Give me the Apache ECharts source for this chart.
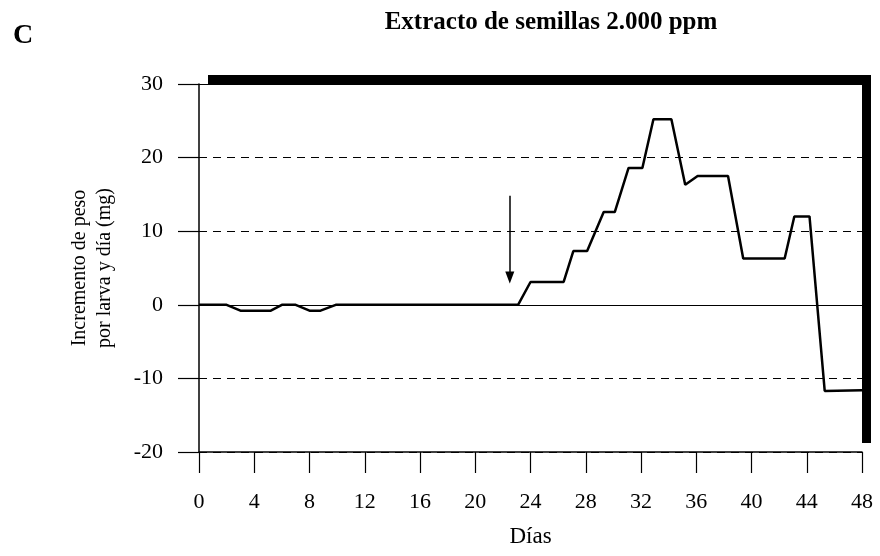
<!DOCTYPE html>
<html>
<head>
<meta charset="utf-8">
<script src="https://cdn.jsdelivr.net/npm/echarts@6/dist/echarts.min.js"></script>
<style>
  html, body { margin: 0; padding: 0; background: #fff; }
  #main { width: 880px; height: 556px; }
</style>
</head>
<body>
<div id="main"></div>
<script>
// Días y incremento de peso (mg)
const days = [0, 2, 3, 5.2, 6, 7, 8, 8.8, 9.9, 23.1, 24, 26.4, 27.1, 28.1, 29.3, 30.1, 31.1, 32.1,
  32.9, 34.2, 35.2, 36.1, 38.3, 39.4, 42.4, 43.1, 44.2, 45.3, 48]
const weightGain = [0, 0, -0.8, -0.8, 0, 0, -0.8, -0.8, 0, 0, 3.1, 3.1, 7.3, 7.3, 12.6, 12.6, 18.6, 18.6,
  25.2, 25.2, 16.3, 17.5, 17.5, 6.3, 6.3, 12, 12, -11.7, -11.6]

// flecha (día del tratamiento)
const arrowDay = 22.5
const arrowFrom = 14.8
const arrowTo = 3.7

const serif = '"Liberation Serif", "DejaVu Serif", serif'

const chart = echarts.init(document.getElementById('main'))

const lineData = days.map((d, i) => [d, weightGain[i]])
const solid = { color: '#000', width: 1.2, type: 'solid' }

const option = {
  animation: false,
  textStyle: { fontFamily: serif, color: '#000' },
  title: [
    {
      text: 'C',
      left: 8,
      top: 17,
      textStyle: { fontFamily: serif, fontSize: 28, fontWeight: 'bold', color: '#000' }
    },
    {
      text: 'Extracto de semillas 2.000 ppm',
      left: 546,
      top: 5,
      textAlign: 'center',
      textStyle: { fontFamily: serif, fontSize: 25, fontWeight: 'bold', color: '#000' }
    }
  ],
  grid: {
    left: 199,
    top: 84,
    right: 18,
    bottom: 104,
    show: true,
    backgroundColor: '#fff',
    borderWidth: 0,
    /** sombra negra arriba y a la derecha */
    shadowColor: '#000',
    shadowBlur: 0,
    shadowOffsetX: 9,
    shadowOffsetY: -9
  },
  xAxis: {
    type: 'value',
    min: 0,
    max: 48,
    interval: 4,
    name: 'Días',
    nameLocation: 'middle',
    nameGap: 73,
    nameTextStyle: { fontFamily: serif, fontSize: 23, color: '#000' },
    axisLine: { onZero: false, lineStyle: { color: '#000', width: 1.5 } },
    axisTick: { length: 21, lineStyle: { color: '#000', width: 1.2 } },
    axisLabel: { margin: 39, fontFamily: serif, fontSize: 22, color: '#000' },
    splitLine: { show: false }
  },
  yAxis: {
    type: 'value',
    min: -20,
    max: 30,
    interval: 10,
    name: 'Incremento de peso\npor larva y día (mg)',
    nameLocation: 'middle',
    nameGap: 82,
    nameRotate: 90,
    nameTextStyle: { fontFamily: serif, fontSize: 20, color: '#000', lineHeight: 25 },
    axisLine: { show: true, lineStyle: { color: '#000', width: 1.5 } },
    axisTick: { show: true, length: 21, lineStyle: { color: '#000', width: 1.2 } },
    axisLabel: { margin: 36, fontFamily: serif, fontSize: 22, color: '#000' },
    splitLine: {
      show: true,
      lineStyle: { color: '#000', width: 1.2, type: [8, 6] }
    }
  },
  series: [
    {
      type: 'line',
      data: lineData,
      symbol: 'none',
      lineStyle: { color: '#000', width: 2.5 },
      markLine: {
        silent: true,
        animation: false,
        label: { show: false },
        data: [
          // línea del cero continua
          [
            { coord: [0, 0], symbol: 'none', lineStyle: solid },
            { coord: [48, 0], symbol: 'none' }
          ],
          // borde superior continuo
          [
            { coord: [0, 30], symbol: 'none', lineStyle: solid },
            { coord: [48, 30], symbol: 'none' }
          ],
          // flecha
          [
            { coord: [arrowDay, arrowFrom], symbol: 'none', lineStyle: { color: '#000', width: 1.5, type: 'solid' } },
            { coord: [arrowDay, arrowTo], symbol: 'triangle', symbolSize: [9, 12] }
          ]
        ]
      }
    }
  ]
}

chart.setOption(option)
</script>
</body>
</html>
